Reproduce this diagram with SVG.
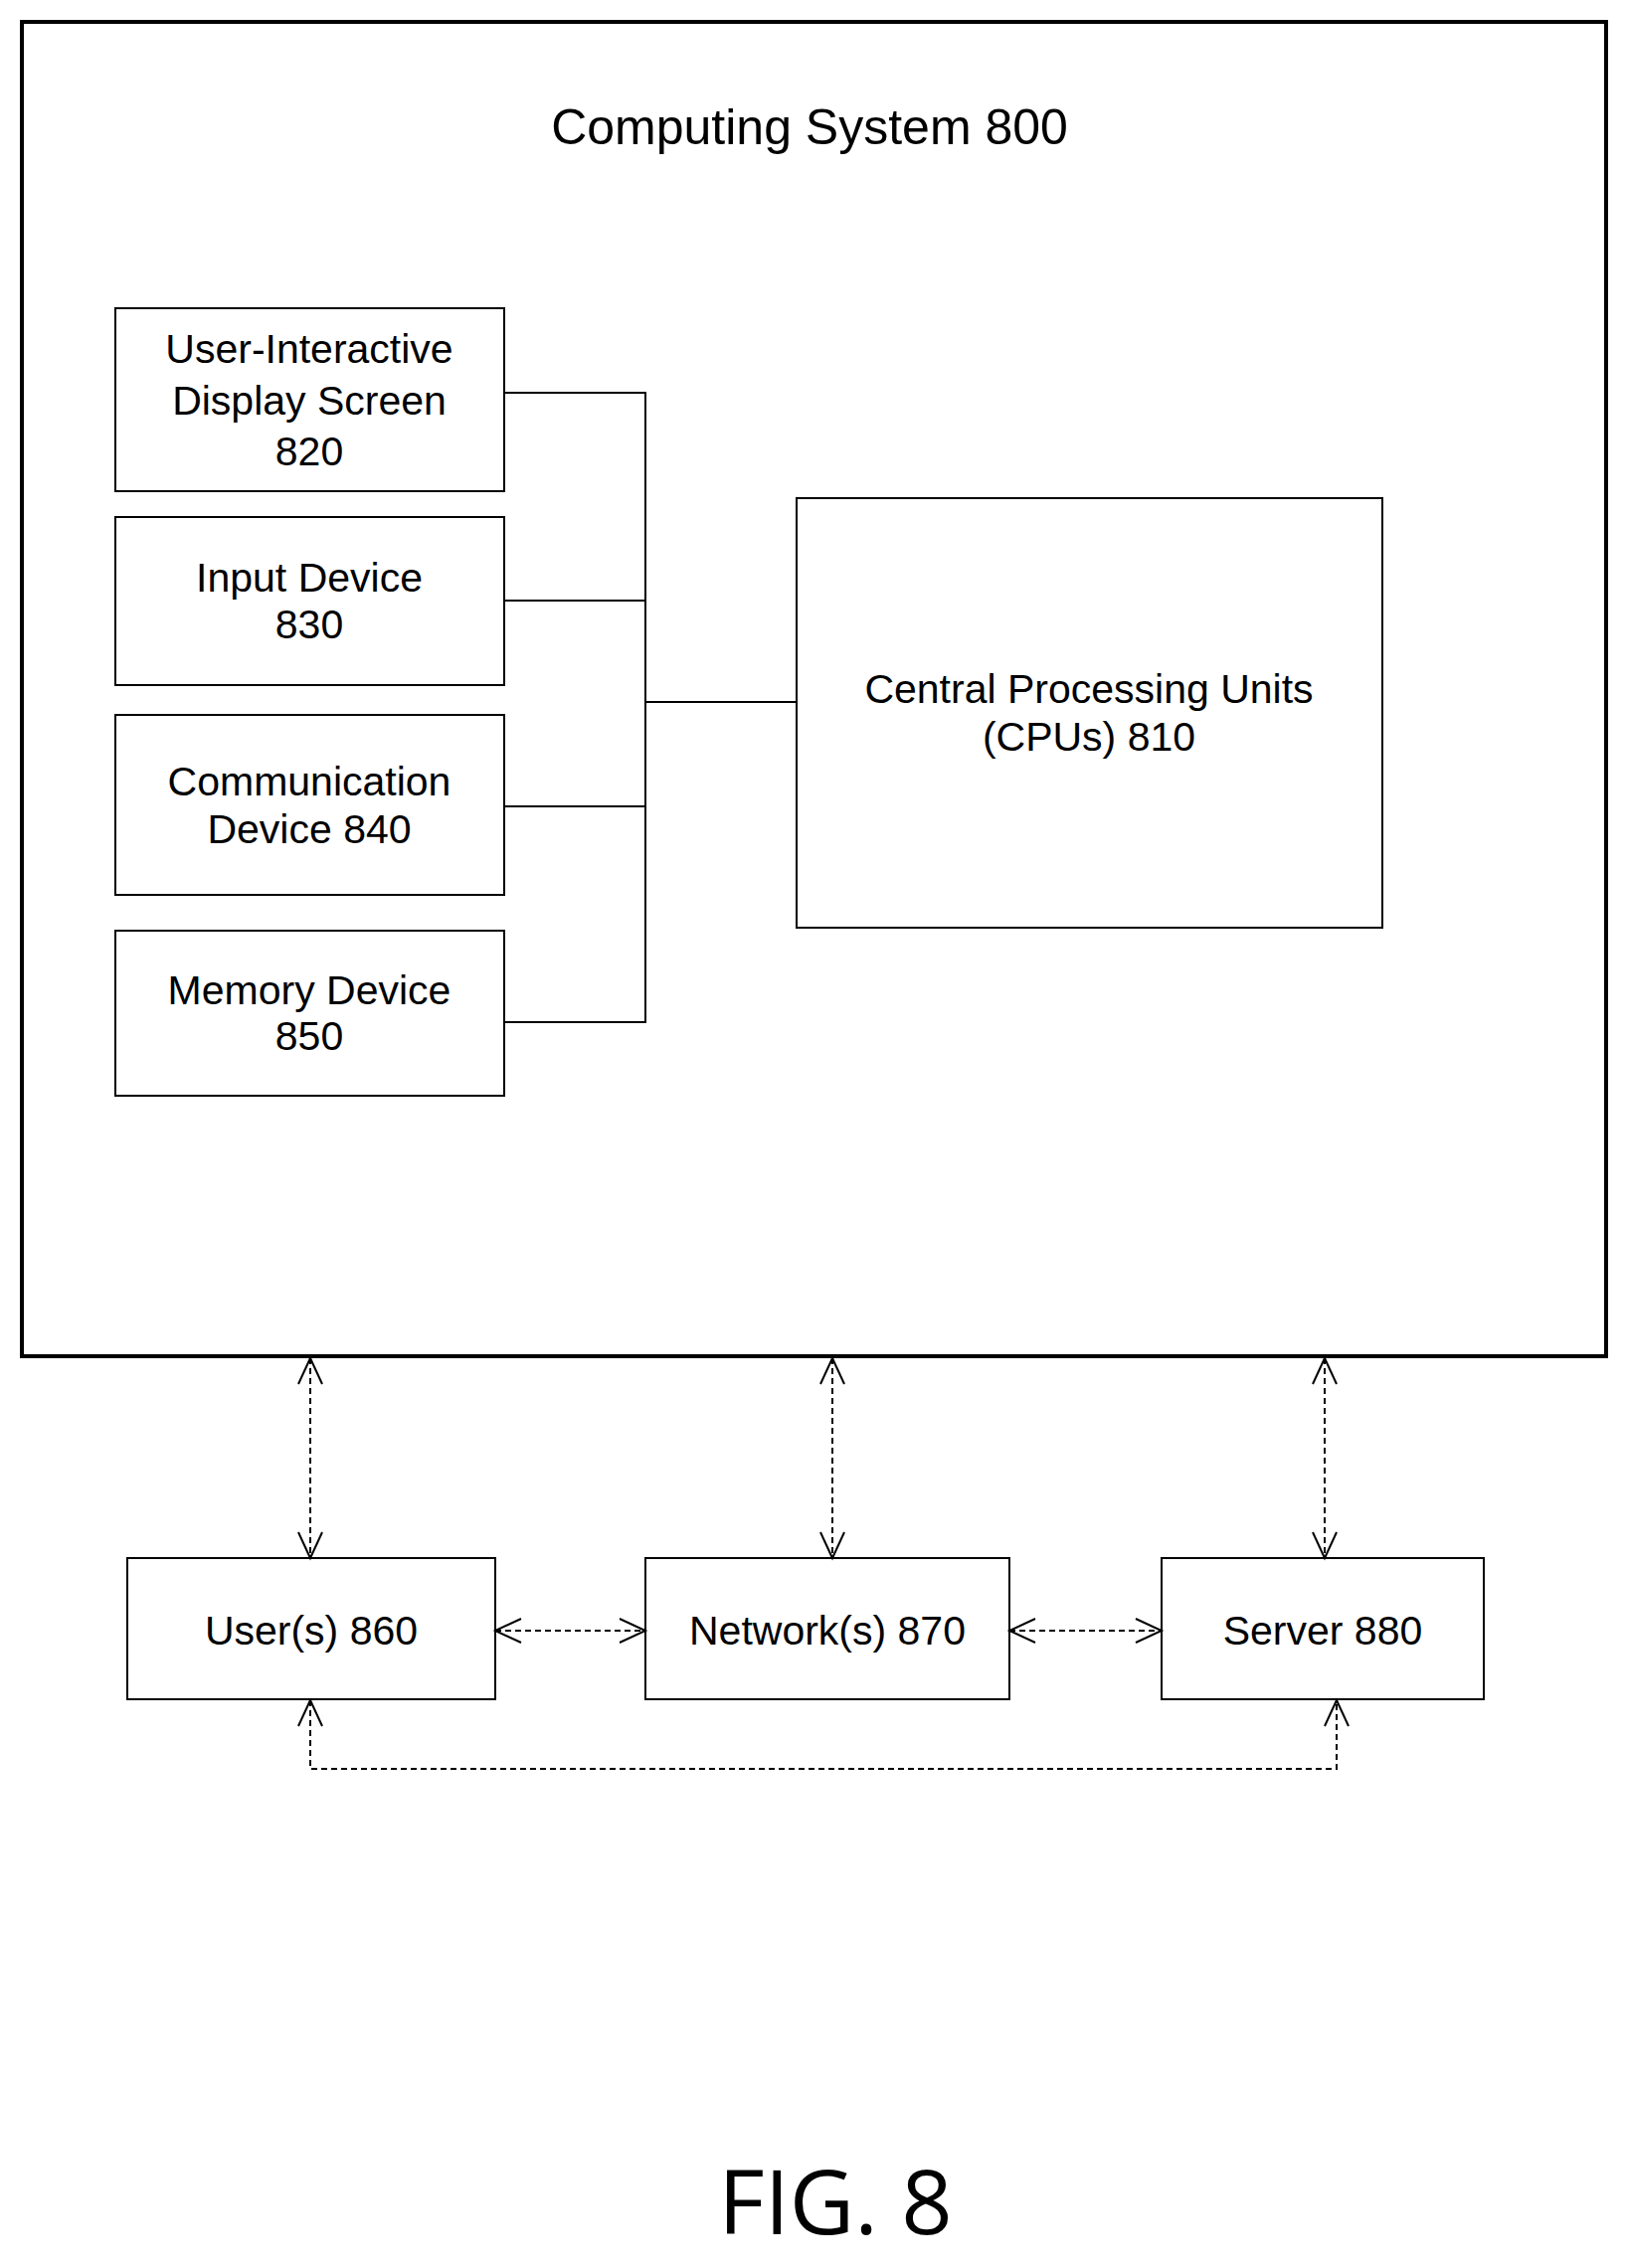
<svg xmlns="http://www.w3.org/2000/svg" width="1635" height="2281" viewBox="0 0 1635 2281">
<defs>
<marker id="a" markerUnits="userSpaceOnUse" markerWidth="40" markerHeight="40" refX="28" refY="14" orient="auto-start-reverse" viewBox="0 0 40 28"><path d="M2,2 L28,14 L2,26" fill="none" stroke="#000" stroke-width="2"/></marker>
</defs>
<style>
rect{fill:#fff;stroke:#000;stroke-width:2}
text{font-family:"Liberation Sans",Arial,sans-serif;font-size:41px;text-anchor:middle;dominant-baseline:central}
.c line,.c path{stroke:#000;stroke-width:2;fill:none}
.d{stroke-dasharray:6,4}
</style>
<rect width="1635" height="2281" style="fill:#fff;stroke:none"/>
<g id="system"><rect x="22" y="22" width="1593" height="1342" style="stroke-width:4"/><text x="814" y="128" style="font-size:50px">Computing System 800</text></g>
<g id="n820"><rect x="116" y="310" width="391" height="184"/><text x="311" y="351">User-Interactive</text><text x="311" y="403">Display Screen</text><text x="311" y="454">820</text></g>
<g id="n830"><rect x="116" y="520" width="391" height="169"/><text x="311" y="581">Input Device</text><text x="311" y="628">830</text></g>
<g id="n840"><rect x="116" y="719" width="391" height="181"/><text x="311" y="786">Communication</text><text x="311" y="834">Device 840</text></g>
<g id="n850"><rect x="116" y="936" width="391" height="166"/><text x="311" y="996">Memory Device</text><text x="311" y="1042">850</text></g>
<g id="n810"><rect x="801" y="501" width="589" height="432"/><text x="1095" y="693">Central Processing Units</text><text x="1095" y="741">(CPUs) 810</text></g>
<g id="n860"><rect x="128" y="1567" width="370" height="142"/><text x="313" y="1640">User(s) 860</text></g>
<g id="n870"><rect x="649" y="1567" width="366" height="142"/><text x="832" y="1640">Network(s) 870</text></g>
<g id="n880"><rect x="1168" y="1567" width="324" height="142"/><text x="1330" y="1640">Server 880</text></g>
<g class="c" id="connectors">
<path d="M507,395 H649 V1028 H507 M507,604 H649 M507,811 H649 M649,706 H801"/>
<line class="d" x1="312" y1="1366" x2="312" y2="1567" marker-start="url(#a)" marker-end="url(#a)"/>
<line class="d" x1="837" y1="1366" x2="837" y2="1567" marker-start="url(#a)" marker-end="url(#a)"/>
<line class="d" x1="1332" y1="1366" x2="1332" y2="1567" marker-start="url(#a)" marker-end="url(#a)"/>
<line class="d" x1="498" y1="1640" x2="649" y2="1640" marker-start="url(#a)" marker-end="url(#a)"/>
<line class="d" x1="1015" y1="1640" x2="1168" y2="1640" marker-start="url(#a)" marker-end="url(#a)"/>
<path class="d" d="M312,1710 V1779 H1344 V1710" marker-start="url(#a)" marker-end="url(#a)"/>
</g>
<text x="840" y="2212" style="font-size:90px;font-family:'Open Sans',sans-serif">FIG. 8</text>
</svg>
